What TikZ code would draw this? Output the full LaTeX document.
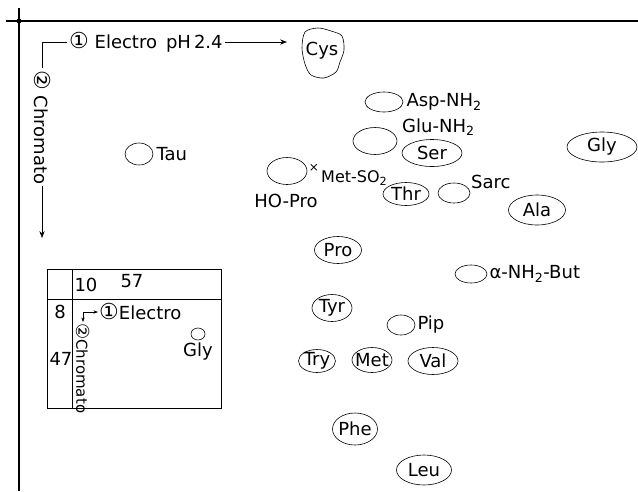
\documentclass[tikz,border=0pt]{standalone}
\usepackage{fontspec}
\setmainfont{DejaVu Sans}
\usetikzlibrary{positioning,arrows.meta,shapes.geometric}
\newcommand{\spotfont}{\fontsize{18}{20}\selectfont}
\newcommand{\insetfont}{\fontsize{15}{17}\selectfont}
\newcommand{\runno}[1]{{\fontsize{22}{20}\selectfont #1}}
\tikzset{
  spot/.style={draw,ellipse,semithick,inner xsep=-3pt,inner ysep=-1pt,font=\spotfont},
  lbl/.style={inner sep=1pt,font=\spotfont},
  axisline/.style={line width=1.8pt},
  runline/.style={semithick},
  runflow/.style={-{Stealth[length=2.4mm]},semithick},
  smallflow/.style={-{Stealth[length=1.6mm]},semithick}
}

\begin{document}
\begin{tikzpicture}[x=1pt,y=-1pt]
  \useasboundingbox (0,0) rectangle (638,491);
  % axes of the sheet
  \coordinate (corner) at (19,21);
  \coordinate (axisright) at (638,21);
  \coordinate (axisbottom) at (19,491);
  \draw[axisline] (6,21) -- (axisright);
  \draw[axisline] (19,8) -- (axisbottom);
  \fill (corner) circle (2.6);

  % run directions
  \coordinate (start) at (42,42);
  \coordinate (elecend) at (287,42);
  \coordinate (chromend) at (42,238);
  \node[lbl,inner sep=2pt,anchor=west] (elec) at (67,42) {\runno{①} Electro\enspace pH\,2.4};
  \node[lbl,inner sep=2pt,anchor=west,rotate=-90] (chrom) at (42,68) {\runno{②} Chromato};
  \draw[runline] (start) -- (elec);
  \draw[runflow] (elec) -- (elecend);
  \draw[runline] (start) -- (chrom);
  \draw[runflow] (chrom) -- (chromend);

  % Cys
  \node[lbl] (cys) at (322,51) {Cys};
  \draw[semithick] plot[smooth cycle] coordinates {(305,32) (318,28) (331,31) (342,36) (344,50)
    (340,62) (336,72) (324,78) (311,75) (305,64) (302,48)};

  % spots
  \node[spot,minimum width=38pt,minimum height=20pt] (asp) at (384,102) {};
  \node[lbl,right=2pt of asp] (asplbl) {Asp-NH\textsubscript{2}};
  \node[spot,minimum width=44pt,minimum height=27pt] (glu) at (375,141) {};
  \node[lbl,anchor=west] (glulbl) at (401,127) {Glu-NH\textsubscript{2}};
  \node[spot,minimum width=60pt,minimum height=27pt] (ser) at (432,153) {Ser};
  \node[spot,minimum width=40pt,minimum height=27pt] (hopro) at (287,171) {};
  \node[lbl] (hoprolbl) at (286,201) {HO-Pro};
  \node[lbl,font=\fontsize{12}{12}\selectfont] (metx) at (314,168) {×};
  \node[lbl,anchor=west,font=\fontsize{16}{18}\selectfont] (metso) at (320,178) {Met-SO\textsubscript{2}};
  \node[spot,minimum width=46pt,minimum height=23pt] (thr) at (406,194) {Thr};
  \node[spot,minimum width=32pt,minimum height=20pt] (sarc) at (454,193) {};
  \node[lbl,anchor=west] (sarclbl) at (470,182) {Sarc};
  \node[spot,minimum width=57pt,minimum height=30pt] (ala) at (537,210) {Ala};
  \node[spot,minimum width=70pt,minimum height=30pt] (gly) at (602,147) {Gly};
  \node[spot,minimum width=28pt,minimum height=22pt] (tau) at (139,154) {};
  \node[lbl,right=2pt of tau] (taulbl) {Tau};
  \node[spot,minimum width=47pt,minimum height=27pt] (pro) at (338,250) {Pro};
  \node[spot,minimum width=32pt,minimum height=18pt] (aabut) at (471,274) {};
  \node[lbl,right=1pt of aabut] (aabutlbl) {α-NH\textsubscript{2}-But};
  \node[spot,minimum width=40pt,minimum height=27pt] (tyr) at (332,308) {Tyr};
  \node[spot,minimum width=28pt,minimum height=20pt] (pip) at (401,325) {};
  \node[lbl,right=1pt of pip] (piplbl) {Pip};
  \node[spot,minimum width=37pt,minimum height=23pt] (try) at (317,361) {Try};
  \node[spot,minimum width=40pt,minimum height=25pt] (met) at (372,360) {Met};
  \node[spot,minimum width=50pt,minimum height=27pt] (val) at (433,361) {Val};
  \node[spot,minimum width=45pt,minimum height=32pt] (phe) at (355,429) {Phe};
  \node[spot,minimum width=55pt,minimum height=30pt] (leu) at (424,470) {Leu};

  % inset sheet
  \draw[semithick] (47,269) rectangle (221,408);
  \draw[semithick] (72,269) -- (72,408);
  \draw[semithick] (47,299) -- (221,299);
  \node[lbl] (ten) at (86,285) {10};
  \node[lbl] (fiftyseven) at (132,281) {57};
  \node[lbl] (eight) at (60,312) {8};
  \node[lbl] (fortyseven) at (61,359) {47};
  \coordinate (icorner) at (83,312);
  \node[lbl,anchor=west] (ielec) at (98,312) {\runno{①}Electro};
  \node[lbl,font=\insetfont,anchor=west,rotate=-90] (ichrom) at (83,322) {{\fontsize{18}{18}\selectfont ②}Chromato};
  \draw[smallflow] (icorner) -- (ielec);
  \draw[smallflow] (icorner) -- (ichrom);
  \node[spot,minimum width=14pt,minimum height=12pt] (igly) at (198,334) {};
  \node[lbl,below=1pt of igly] (iglylbl) {Gly};
\end{tikzpicture}
\end{document}
